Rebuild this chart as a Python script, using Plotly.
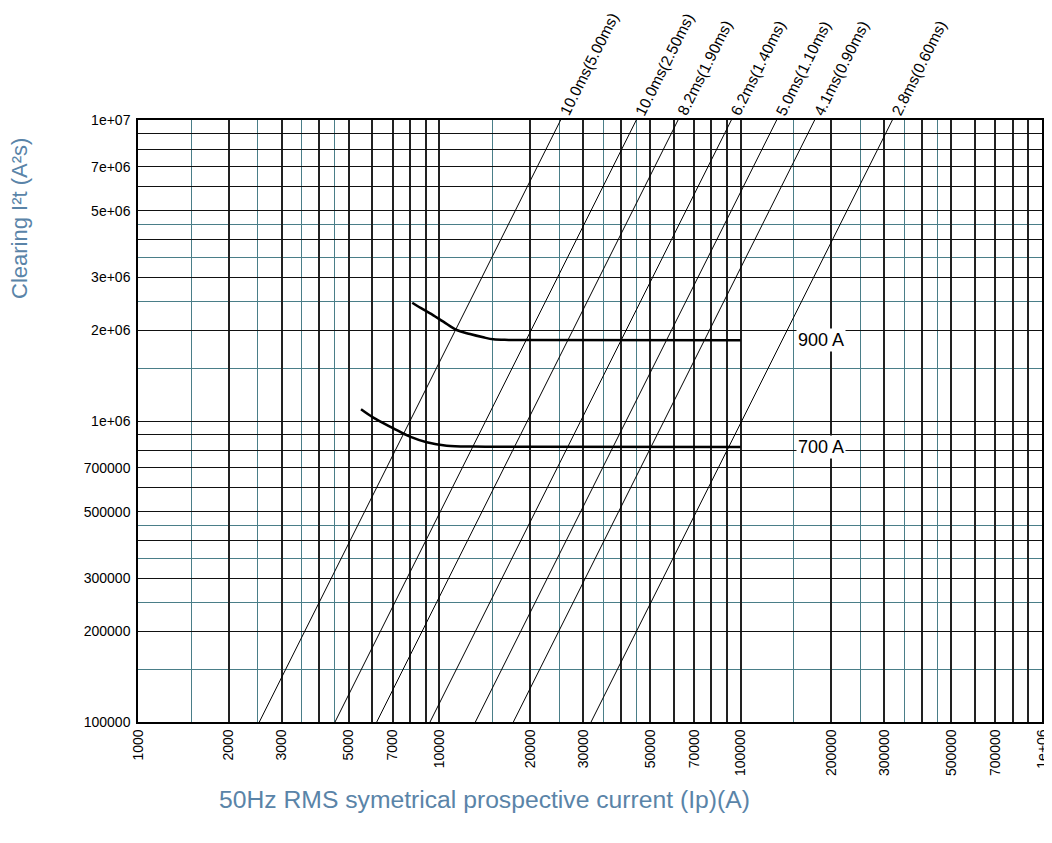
import numpy as np
import plotly.graph_objects as go

# ---------------- data ----------------
# diagonal constant-time lines: current (A) where each line crosses I2t = 1e5 A2s
line_labels = ["10.0ms(5.00ms)", "10.0ms(2.50ms)", "8.2ms(1.90ms)", "6.2ms(1.40ms)",
               "5.0ms(1.10ms)", "4.1ms(0.90ms)", "2.8ms(0.60ms)"]
line_i_at_1e5 = [2527, 4506, 6198, 9314, 13170, 17605, 31880]

# fuse curves (900 A and 700 A)
c900_i = [8130, 8700, 9320, 10310, 11420, 12640, 13990, 15110, 17000, 20000, 100000]
c900_i2t = [2.47e6, 2.37e6, 2.279e6, 2.138e6, 2.006e6, 1.945e6, 1.897e6, 1.868e6, 1.86e6,
            1.858e6, 1.855e6]
c700_i = [5497, 6040, 7036, 7991, 9082, 10580, 13000, 20000, 100000]
c700_i2t = [1.094e6, 1.026e6, 9.456e5, 8.867e5, 8.496e5, 8.28e5, 8.22e5, 8.21e5, 8.2e5]
curve_names = ["900 A", "700 A"]
curve_label_x = 185000

# axis ticks
x_tick_vals = [1000, 2000, 3000, 5000, 7000, 10000, 20000, 30000, 50000, 70000,
               100000, 200000, 300000, 500000, 700000, 1000000]
x_tick_text = ["1000", "2000", "3000", "5000", "7000", "10000", "20000", "30000", "50000",
               "70000", "100000", "200000", "300000", "500000", "700000", "1e+06"]
y_tick_vals = [1e5, 2e5, 3e5, 5e5, 7e5, 1e6, 2e6, 3e6, 5e6, 7e6, 1e7]
y_tick_text = ["100000", "200000", "300000", "500000", "700000", "1e+06", "2e+06",
               "3e+06", "5e+06", "7e+06", "1e+07"]
major_mults = [1, 2, 3, 4, 5, 6, 7, 8, 9]
minor_mults = [1.5, 2.5, 3.5, 4.5]

x_title = "50Hz RMS symetrical prospective current (Ip)(A)"
y_title = "Clearing I²t (A²s)"

# ---------------- build ----------------
def grid_vals(dec_lo, dec_hi, mults, include_top=True):
    v = [m * 10 ** d for d in range(dec_lo, dec_hi) for m in mults]
    if include_top:
        v.append(10 ** dec_hi)
    return v

x_major = grid_vals(3, 6, major_mults)
y_major = grid_vals(5, 7, major_mults)
x_minor = grid_vals(3, 6, minor_mults, False)
y_minor = grid_vals(5, 7, minor_mults, False)

def tick_text(all_vals, shown_vals, shown_text):
    d = dict(zip(shown_vals, shown_text))
    return [d.get(v, "") for v in all_vals]

FONT = "Liberation Sans, Arial, Helvetica, sans-serif"
TEAL = "#4a7e88"
TITLE_C = "#5a84a8"

fig = go.Figure()

for i0 in line_i_at_1e5:
    xs = [i0, i0 * 10]
    ys = [1e5 * (x / i0) ** 2 for x in xs]
    fig.add_trace(go.Scatter(x=xs, y=ys, mode="lines", line=dict(color="black", width=1),
                             showlegend=False, hoverinfo="skip"))

for xs, ys in [(c900_i, c900_i2t), (c700_i, c700_i2t)]:
    fig.add_trace(go.Scatter(x=xs, y=ys, mode="lines",
                             line=dict(color="black", width=2.5, shape="spline", smoothing=1.0),
                             showlegend=False, hoverinfo="skip"))

# approximate Arial advance widths (em/1000) for label length estimate
W = {"0": 556, "1": 556, "2": 556, "3": 556, "4": 556, "5": 556, "6": 556, "7": 556,
     "8": 556, "9": 556, ".": 278, "m": 833, "s": 500, "(": 333, ")": 333}
lab_size = 15.5
ang = 63.4
annotations = []
for lab, i0 in zip(line_labels, line_i_at_1e5):
    L = sum(W.get(c, 556) for c in lab) / 1000 * lab_size
    s = 2 + L / 2
    annotations.append(dict(
        x=np.log10(i0 * 10), y=7, xref="x", yref="y", text=lab, showarrow=False,
        textangle=-ang, xanchor="center", yanchor="middle",
        xshift=s * np.cos(np.radians(ang)) + 2, yshift=s * np.sin(np.radians(ang)) + 4,
        font=dict(family=FONT, size=lab_size, color="black")))

for name, ys in zip(curve_names, [c900_i2t, c700_i2t]):
    annotations.append(dict(
        x=np.log10(curve_label_x), y=np.log10(ys[-1]), xref="x", yref="y", text=name,
        showarrow=False, bgcolor="white", borderpad=1,
        font=dict(family=FONT, size=18, color="black")))

annotations.append(dict(x=(484 - 138) / 904, y=(722 - 799) / 602, xref="paper", yref="paper",
                        text=x_title, showarrow=False, xanchor="center", yanchor="middle",
                        font=dict(family=FONT, size=24.7, color=TITLE_C)))
annotations.append(dict(x=(20 - 138) / 904, y=(722 - 218) / 602, xref="paper", yref="paper",
                        text=y_title, showarrow=False, textangle=-90,
                        xanchor="center", yanchor="middle",
                        font=dict(family=FONT, size=22, color=TITLE_C)))

# page body adds an 8 px offset; compensate so the plot area sits at x 138-1042, y 120-722
fig.update_layout(
    width=1044, height=835,
    margin=dict(l=130, r=10, t=112, b=121, autoexpand=False),
    paper_bgcolor="white", plot_bgcolor="white",
    font=dict(family=FONT, size=14, color="black"),
    annotations=annotations,
    xaxis=dict(type="log", range=[3, 6], tickmode="array", tickvals=x_major,
               ticktext=tick_text(x_major, x_tick_vals, x_tick_text), tickangle=-90,
               automargin=False,
               showgrid=True, gridcolor="#222222", gridwidth=1.8,
               showline=True, linecolor="black", linewidth=1.5, mirror=True,
               ticks="", tickfont=dict(family=FONT, size=14, color="black"),
               minor=dict(tickvals=x_minor, showgrid=True, gridcolor=TEAL, gridwidth=1.2, ticks=""),
               zeroline=False),
    yaxis=dict(type="log", range=[5, 7], tickmode="array", tickvals=y_major,
               ticktext=tick_text(y_major, y_tick_vals, y_tick_text), automargin=False,
               showgrid=True, gridcolor="#111111", gridwidth=1.3, ticklabelstandoff=3,
               showline=True, linecolor="black", linewidth=1.5, mirror=True,
               ticks="", tickfont=dict(family=FONT, size=14, color="black"),
               minor=dict(tickvals=y_minor, showgrid=True, gridcolor=TEAL, gridwidth=1.2, ticks=""),
               zeroline=False),
)

fig.write_html("out.html")
